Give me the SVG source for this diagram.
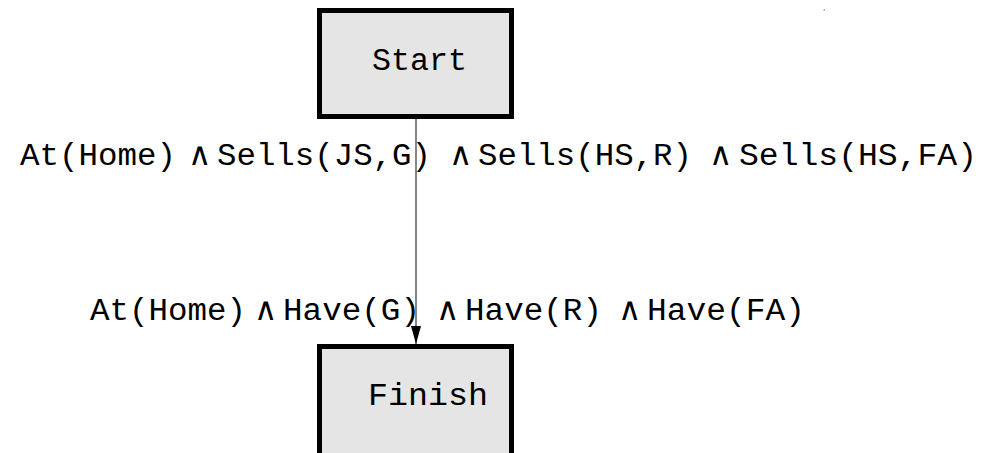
<svg xmlns="http://www.w3.org/2000/svg" width="985" height="453" viewBox="0 0 985 453">
<defs>
<style>
.node rect{fill:#e5e5e5;stroke:#000;stroke-width:5}
.t{font-family:"Liberation Mono","Courier New",monospace;font-size:31px;fill:#000}
.and{font-family:"DejaVu Sans","Liberation Serif",sans-serif;font-weight:200;font-size:32px;fill:#000;text-anchor:middle}
.edge{stroke:#222;stroke-width:1.1;fill:none}
</style>
<marker id="arr" viewBox="0 0 18 10" refX="18" refY="5" markerWidth="18" markerHeight="10" markerUnits="userSpaceOnUse" orient="auto">
<path d="M0,0 L18,5 L0,10 Z" fill="#000"/>
</marker>
</defs>
<rect width="985" height="453" fill="#fff"/>
<rect x="823.5" y="9" width="1.5" height="1.5" fill="#999"/>
<g id="connectors">
<line class="edge" x1="416" y1="119" x2="416" y2="344" marker-end="url(#arr)"/>
</g>
<g id="start" class="node">
<rect x="319.5" y="10.5" width="192" height="106"/>
<text class="t" x="372" y="70" textLength="95" lengthAdjust="spacingAndGlyphs">Start</text>
</g>
<g id="finish" class="node">
<rect x="319.5" y="346.5" width="192" height="130"/>
<text class="t" x="368" y="405" textLength="120" lengthAdjust="spacingAndGlyphs">Finish</text>
</g>
<g id="label-start">
<text class="t" x="20" y="165" textLength="156" lengthAdjust="spacingAndGlyphs">At(Home)</text>
<text class="and" x="199" y="165">∧</text>
<text class="t" x="217" y="165" textLength="214" lengthAdjust="spacingAndGlyphs">Sells(JS,G)</text>
<text class="and" x="460" y="165">∧</text>
<text class="t" x="478" y="165" textLength="214" lengthAdjust="spacingAndGlyphs">Sells(HS,R)</text>
<text class="and" x="720" y="165">∧</text>
<text class="t" x="739" y="165" textLength="238" lengthAdjust="spacingAndGlyphs">Sells(HS,FA)</text>
</g>
<g id="label-finish">
<text class="t" x="90" y="320" textLength="156" lengthAdjust="spacingAndGlyphs">At(Home)</text>
<text class="and" x="265" y="320">∧</text>
<text class="t" x="283" y="320" textLength="137" lengthAdjust="spacingAndGlyphs">Have(G)</text>
<text class="and" x="447" y="320">∧</text>
<text class="t" x="465" y="320" textLength="137" lengthAdjust="spacingAndGlyphs">Have(R)</text>
<text class="and" x="629" y="320">∧</text>
<text class="t" x="647" y="320" textLength="158" lengthAdjust="spacingAndGlyphs">Have(FA)</text>
</g>
</svg>
